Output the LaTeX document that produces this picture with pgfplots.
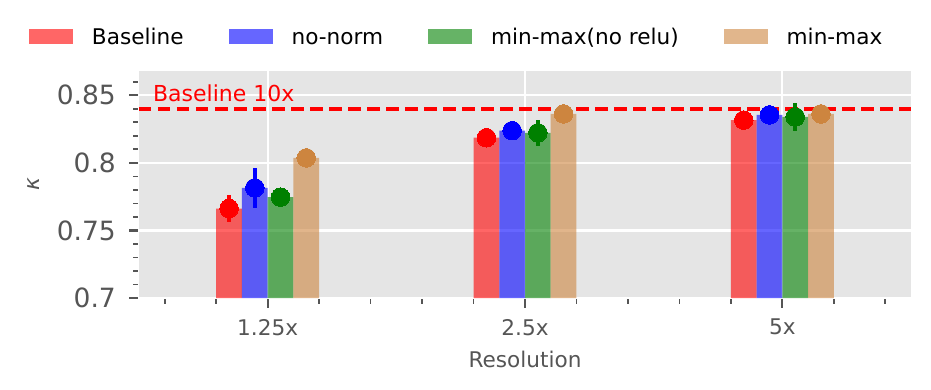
\documentclass[border=0pt]{standalone}
\usepackage{fontspec}
\setmainfont{DejaVu Sans}
\usepackage{pgfplots}
\pgfplotsset{compat=1.18}
\definecolor{bggray}{HTML}{E5E5E5}
\definecolor{tickgray}{HTML}{555555}
\definecolor{mred}{HTML}{FF0000}
\definecolor{mblue}{HTML}{0000FF}
\definecolor{mgreen}{HTML}{008000}
\definecolor{mperu}{HTML}{CD853F}
\pgfplotsset{
  mybar/.style={ybar, bar width=0.1, bar shift=0pt, draw=none, fill opacity=0.6,
    legend image code/.code={\fill[##1,/tikz/.cd,draw=none] (0bp,-7.3bp) rectangle (44bp,7.3bp);}},
  mydot/.style={only marks, mark=*, mark size=9.3bp, mark options={line width=0pt}, forget plot,
    /pgfplots/error bars/y dir=both, /pgfplots/error bars/y explicit,
    /pgfplots/error bars/error mark=none,
    /pgfplots/error bars/error bar style={line width=3.5bp}},
}
\begin{document}
\begin{tikzpicture}
\begin{axis}[
    scale only axis, width=772bp, height=228bp,
    xmin=-0.5, xmax=2.5, ymin=0.7, ymax=0.8687,
    xtick={0,1,2}, xticklabels={1.25x,2.5x,5x},
    minor xtick={-0.4,-0.2,0.2,0.4,0.6,0.8,1.2,1.4,1.6,1.8,2.2,2.4},
    ytick={0.7,0.75,0.8,0.85}, yticklabels={0.7,0.75,0.8,0.85},
    minor ytick={0.71,0.72,0.73,0.74,0.76,0.77,0.78,0.79,0.81,0.82,0.83,0.84,0.86},
    tick pos=left, tick align=outside,
    major tick length=9.5bp, minor tick length=5.5bp,
    major tick style={tickgray, line width=2.2bp},
    minor tick style={tickgray, line width=1.7bp},
    grid=major, major grid style={white, line width=2.2bp},
    axis background/.style={fill=bggray},
    axis line style={white, line width=1bp},
    /pgf/number format/assume math mode=true,
    xticklabel style={font=\fontsize{21.6bp}{24bp}\selectfont, text=tickgray, inner sep=0pt},
    yticklabel style={font=\fontsize{26.5bp}{30bp}\selectfont, text=tickgray, inner sep=0pt},
    xticklabel shift=11.5bp, yticklabel shift=13.5bp,
    xlabel={Resolution},
    xlabel style={at={(axis description cs:0.5,0)}, anchor=north, yshift=-53bp, inner sep=0pt,
      font=\fontsize{21.6bp}{24bp}\selectfont, text=tickgray},
    ylabel={\textit{κ}},
    ylabel style={at={(axis description cs:-0.137,0.5)}, anchor=center, inner sep=0pt,
      font=\fontsize{21.6bp}{24bp}\selectfont, text=tickgray},
    legend columns=4, legend cell align=left,
    legend style={at={(axis description cs:-0.1425,1.1467)}, anchor=west, draw=none, fill=none,
      inner sep=0pt, outer sep=0pt, column sep=0pt, row sep=0pt,
      font=\fontsize{21.6bp}{24bp}\selectfont,
      nodes={inner sep=0pt, text height=15.7bp, text depth=0pt},
      /tikz/every odd column/.append style={column sep=19bp},
      /tikz/every even column/.append style={column sep=45bp}},
]
% bars (group centres at 0,1,2; series offsets -0.15,-0.05,0.05,0.15)
\addplot[mybar, fill=mred] coordinates {(-0.15,0.7662) (0.85,0.8186) (1.85,0.8316)};
\addlegendentry{Baseline}
\addplot[mybar, fill=mblue] coordinates {(-0.05,0.7815) (0.95,0.8238) (1.95,0.8355)};
\addlegendentry{no-norm}
\addplot[mybar, fill=mgreen] coordinates {(0.05,0.7746) (1.05,0.8222) (2.05,0.8340)};
\addlegendentry{min-max(no relu)}
\addplot[mybar, fill=mperu] coordinates {(0.15,0.8037) (1.15,0.8362) (2.15,0.8362)};
\addlegendentry{min-max}
% baseline 10x reference
\addplot[mred, line width=4bp, dash pattern=on 12.5bp off 6.5bp, forget plot]
  coordinates {(-0.5,0.8400) (2.5,0.8400)};
\node[anchor=base west, inner sep=0pt, text=mred, font=\fontsize{22bp}{24bp}\selectfont]
  at (axis cs:-0.446,0.8453) {Baseline 10x};
% means with error bars
\addplot[mred, mydot] coordinates {(-0.15,0.7662) +- (0,0.0103) (0.85,0.8186) +- (0,0) (1.85,0.8316) +- (0,0)};
\addplot[mblue, mydot] coordinates {(-0.05,0.7815) +- (0,0.015) (0.95,0.8238) +- (0,0) (1.95,0.8355) +- (0,0)};
\addplot[mgreen, mydot] coordinates {(0.05,0.7746) +- (0,0.002) (1.05,0.8222) +- (0,0.0095) (2.05,0.8340) +- (0,0.0101)};
\addplot[mperu, mydot] coordinates {(0.15,0.8037) +- (0,0) (1.15,0.8362) +- (0,0) (2.15,0.8362) +- (0,0)};
\end{axis}
\pgfresetboundingbox
\path (-139bp,-92bp) rectangle (792bp,298bp);
\end{tikzpicture}
\end{document}
